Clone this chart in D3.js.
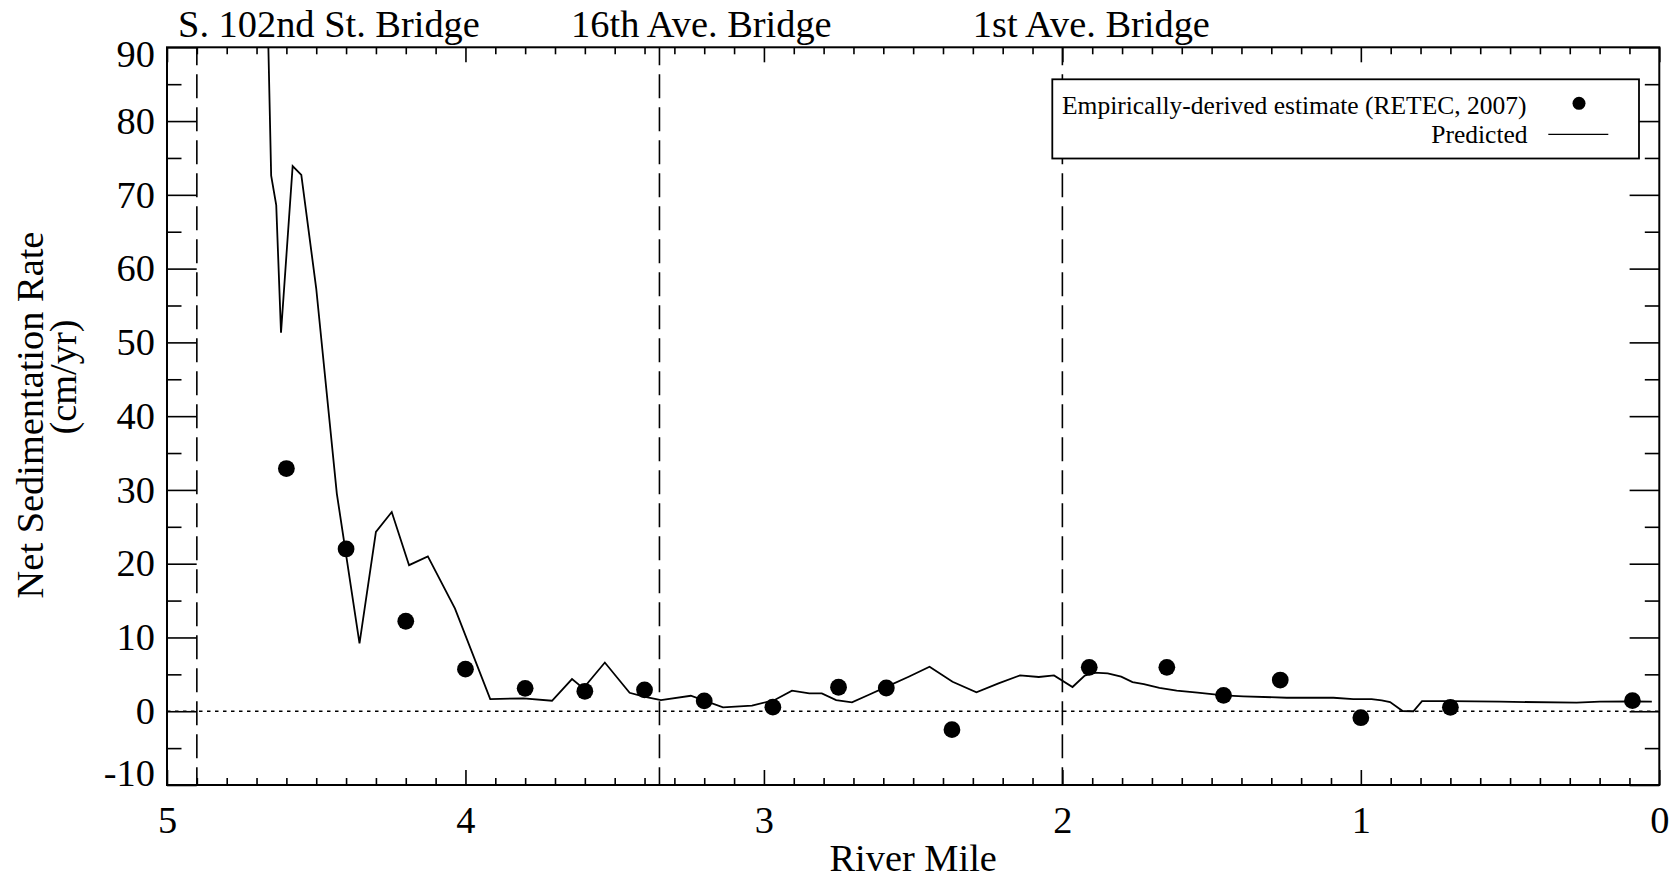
<!DOCTYPE html>
<html>
<head>
<meta charset="utf-8">
<script src="https://cdn.jsdelivr.net/npm/d3@7/dist/d3.min.js"></script>
<style>
  html, body { margin: 0; padding: 0; background: #fff; }
  svg { display: block; }
  text { font-family: "Liberation Serif", "Times New Roman", Times, serif; fill: #000; }
</style>
</head>
<body>
<svg id="chart" width="1677" height="880"></svg>
<script>
// Empirically-derived net sedimentation estimates (RETEC, 2007), by river mile
const obsMile = [4.60, 4.40, 4.20, 4.00, 3.80, 3.60, 3.40, 3.20, 2.97, 2.75, 2.59, 2.37, 1.91, 1.65, 1.46, 1.27, 1.00, 0.70, 0.09];
const obsRate = [32.9, 22.0, 12.2, 5.7, 3.1, 2.7, 2.9, 1.4, 0.55, 3.25, 3.15, -2.5, 5.95, 5.95, 2.15, 4.23, -0.88, 0.53, 1.43];

// Model-predicted net sedimentation rate along the channel
const predMile = [4.670, 4.651, 4.634, 4.618, 4.579, 4.550, 4.500, 4.431, 4.355, 4.300, 4.247, 4.189, 4.126, 4.035,
  3.917, 3.806, 3.710, 3.643, 3.605, 3.533, 3.450, 3.402, 3.345, 3.245, 3.137, 3.040, 2.964, 2.906, 2.848, 2.806,
  2.758, 2.705, 2.650, 2.590, 2.515, 2.445, 2.368, 2.288, 2.214, 2.142, 2.079, 2.028, 1.966, 1.925, 1.893, 1.848,
  1.803, 1.765, 1.727, 1.675, 1.617, 1.547, 1.460, 1.394, 1.248, 1.092, 1.025, 0.964, 0.930, 0.902, 0.860, 0.824,
  0.795, 0.701, 0.534, 0.277, 0.199, 0.090, 0.025];
const predRate = [108.0, 72.6, 68.6, 51.3, 73.9, 72.7, 57.3, 29.5, 9.2, 24.3, 27.0, 19.8, 21.0, 13.9,
  1.65, 1.75, 1.42, 4.36, 3.1, 6.6, 2.5, 1.97, 1.52, 2.1, 0.53, 0.75, 1.52, 2.78, 2.42, 2.42,
  1.52, 1.2, 2.2, 3.3, 4.68, 6.03, 4.0, 2.56, 3.78, 4.86, 4.64, 4.86, 3.28, 4.82, 5.22, 5.14,
  4.68, 3.96, 3.69, 3.15, 2.78, 2.51, 2.15, 2.02, 1.83, 1.83, 1.65, 1.65, 1.47, 1.25, 0.03, 0.0,
  1.38, 1.38, 1.29, 1.16, 1.29, 1.34, 1.29];

// Bridges crossing the waterway
const bridgeNames = ["S. 102nd St. Bridge", "16th Ave. Bridge", "1st Ave. Bridge"];
const bridgeMile = [4.90, 3.35, 2.00];
const bridgeLabelMile = [4.963, 3.646, 2.300];

// Axis ticks
const xTicks = [5, 4, 3, 2, 1, 0];
const xMinorTicks = d3.range(0, 51).filter(i => i % 10 !== 0).map(i => i / 10);
const yTicks = [-10, 0, 10, 20, 30, 40, 50, 60, 70, 80, 90];
const yMinorTicks = [-5, 5, 15, 25, 35, 45, 55, 65, 75, 85];

const xTitle = "River Mile";
const yTitle = ["Net Sedimentation Rate", "(cm/yr)"];
const legendLabels = ["Empirically-derived estimate (RETEC, 2007)", "Predicted"];

// ---- layout ----
const plot = { left: 167, right: 1659.3, top: 47.3, bottom: 785 };
const FONT = 38.4;
const SERIF = "'Liberation Serif', 'Times New Roman', Times, serif";

const svg = d3.select("#chart");

const x = d3.scaleLinear().domain([5, 0]).range([plot.left, plot.right]);
const y = d3.scaleLinear().domain([-10, 90]).range([plot.bottom, plot.top]);

svg.append("defs").append("clipPath").attr("id", "plotClip")
  .append("rect")
  .attr("x", plot.left).attr("y", plot.top)
  .attr("width", plot.right - plot.left).attr("height", plot.bottom - plot.top);

// zero reference line
svg.append("line")
  .attr("x1", plot.left).attr("x2", plot.right)
  .attr("y1", y(0)).attr("y2", y(0))
  .attr("stroke", "#000").attr("stroke-width", 1.5)
  .attr("stroke-dasharray", "3.5,4.5");

// bridge locations
svg.append("g").selectAll("line").data(bridgeMile).join("line")
  .attr("x1", d => x(d)).attr("x2", d => x(d))
  .attr("y1", plot.top).attr("y2", plot.bottom)
  .attr("stroke", "#000").attr("stroke-width", 1.6)
  .attr("stroke-dasharray", "24,9")
  .attr("stroke-dashoffset", -27);

svg.append("g").selectAll("text").data(bridgeNames).join("text")
  .attr("x", (d, i) => x(bridgeLabelMile[i]))
  .attr("y", 37.3)
  .attr("font-size", FONT)
  .text(d => d);

// axes
function styleAxis(g) {
  g.select(".domain").remove();
  g.selectAll(".tick line").attr("stroke", "#000").attr("stroke-width", 1.6);
  g.selectAll("text")
    .attr("font-family", SERIF)
    .attr("font-size", FONT).attr("fill", "#000");
}
const plainNumber = d => String(d);   // ASCII hyphen for negatives

svg.append("g").attr("transform", `translate(0,${plot.bottom})`)
  .call(d3.axisBottom(x).tickValues(xTicks).tickFormat(plainNumber)
    .tickSizeInner(-15).tickSizeOuter(0).tickPadding(20.7))
  .call(styleAxis);
svg.append("g").attr("transform", `translate(0,${plot.bottom})`)
  .call(d3.axisBottom(x).tickValues(xMinorTicks).tickFormat("")
    .tickSizeInner(-7).tickSizeOuter(0))
  .call(styleAxis);
svg.append("g").attr("transform", `translate(0,${plot.top})`)
  .call(d3.axisTop(x).tickValues(xTicks).tickFormat("")
    .tickSizeInner(-15).tickSizeOuter(0))
  .call(styleAxis);
svg.append("g").attr("transform", `translate(0,${plot.top})`)
  .call(d3.axisTop(x).tickValues(xMinorTicks).tickFormat("")
    .tickSizeInner(-7).tickSizeOuter(0))
  .call(styleAxis);

const yAxisG = svg.append("g").attr("transform", `translate(${plot.left},0)`)
  .call(d3.axisLeft(y).tickValues(yTicks).tickFormat(plainNumber)
    .tickSizeInner(-29.7).tickSizeOuter(0).tickPadding(12))
  .call(styleAxis);
// keep the end labels inside the vertical extent of the frame
yAxisG.selectAll(".tick text")
  .attr("dy", d => d === 90 ? "0.5em" : d === -10 ? "0.0em" : "0.32em");

svg.append("g").attr("transform", `translate(${plot.left},0)`)
  .call(d3.axisLeft(y).tickValues(yMinorTicks).tickFormat("")
    .tickSizeInner(-14.5).tickSizeOuter(0))
  .call(styleAxis);
svg.append("g").attr("transform", `translate(${plot.right},0)`)
  .call(d3.axisRight(y).tickValues(yTicks).tickFormat("")
    .tickSizeInner(-29.7).tickSizeOuter(0))
  .call(styleAxis);
svg.append("g").attr("transform", `translate(${plot.right},0)`)
  .call(d3.axisRight(y).tickValues(yMinorTicks).tickFormat("")
    .tickSizeInner(-14.5).tickSizeOuter(0))
  .call(styleAxis);

// frame
svg.append("rect")
  .attr("x", plot.left).attr("y", plot.top)
  .attr("width", plot.right - plot.left).attr("height", plot.bottom - plot.top)
  .attr("fill", "none").attr("stroke", "#000").attr("stroke-width", 2);

// predicted line
const predicted = predMile.map((m, i) => ({ m, v: predRate[i] }));
svg.append("path")
  .datum(predicted)
  .attr("clip-path", "url(#plotClip)")
  .attr("fill", "none").attr("stroke", "#000").attr("stroke-width", 1.8)
  .attr("stroke-linejoin", "miter")
  .attr("d", d3.line().x(d => x(d.m)).y(d => y(d.v)));

// observed estimates
const observed = obsMile.map((m, i) => ({ m, v: obsRate[i] }));
svg.append("g").selectAll("circle").data(observed).join("circle")
  .attr("cx", d => x(d.m)).attr("cy", d => y(d.v)).attr("r", 8.4)
  .attr("fill", "#000");

// axis titles
svg.append("text")
  .attr("x", (plot.left + plot.right) / 2).attr("y", 871)
  .attr("text-anchor", "middle").attr("font-size", FONT)
  .text(xTitle);

svg.append("text")
  .attr("transform", "translate(42.7,415) rotate(-90)")
  .attr("text-anchor", "middle").attr("font-size", FONT)
  .text(yTitle[0]);
svg.append("text")
  .attr("transform", "translate(76,377) rotate(-90)")
  .attr("text-anchor", "middle").attr("font-size", FONT)
  .text(yTitle[1]);

// legend
const legend = svg.append("g");
legend.append("rect")
  .attr("x", 1052.3).attr("y", 79.3)
  .attr("width", 1639 - 1052.3).attr("height", 158.5 - 79.3)
  .attr("fill", "#fff").attr("stroke", "#000").attr("stroke-width", 1.8);
legend.append("text")
  .attr("x", 1526.5).attr("y", 113.5)
  .attr("text-anchor", "end").attr("font-size", 25.5)
  .text(legendLabels[0]);
legend.append("circle")
  .attr("cx", 1579).attr("cy", 103.3).attr("r", 6.5).attr("fill", "#000");
legend.append("text")
  .attr("x", 1527.6).attr("y", 142.5)
  .attr("text-anchor", "end").attr("font-size", 25.5)
  .text(legendLabels[1]);
legend.append("line")
  .attr("x1", 1548.3).attr("x2", 1608.3).attr("y1", 134.3).attr("y2", 134.3)
  .attr("stroke", "#000").attr("stroke-width", 1.3);
</script>
</body>
</html>
